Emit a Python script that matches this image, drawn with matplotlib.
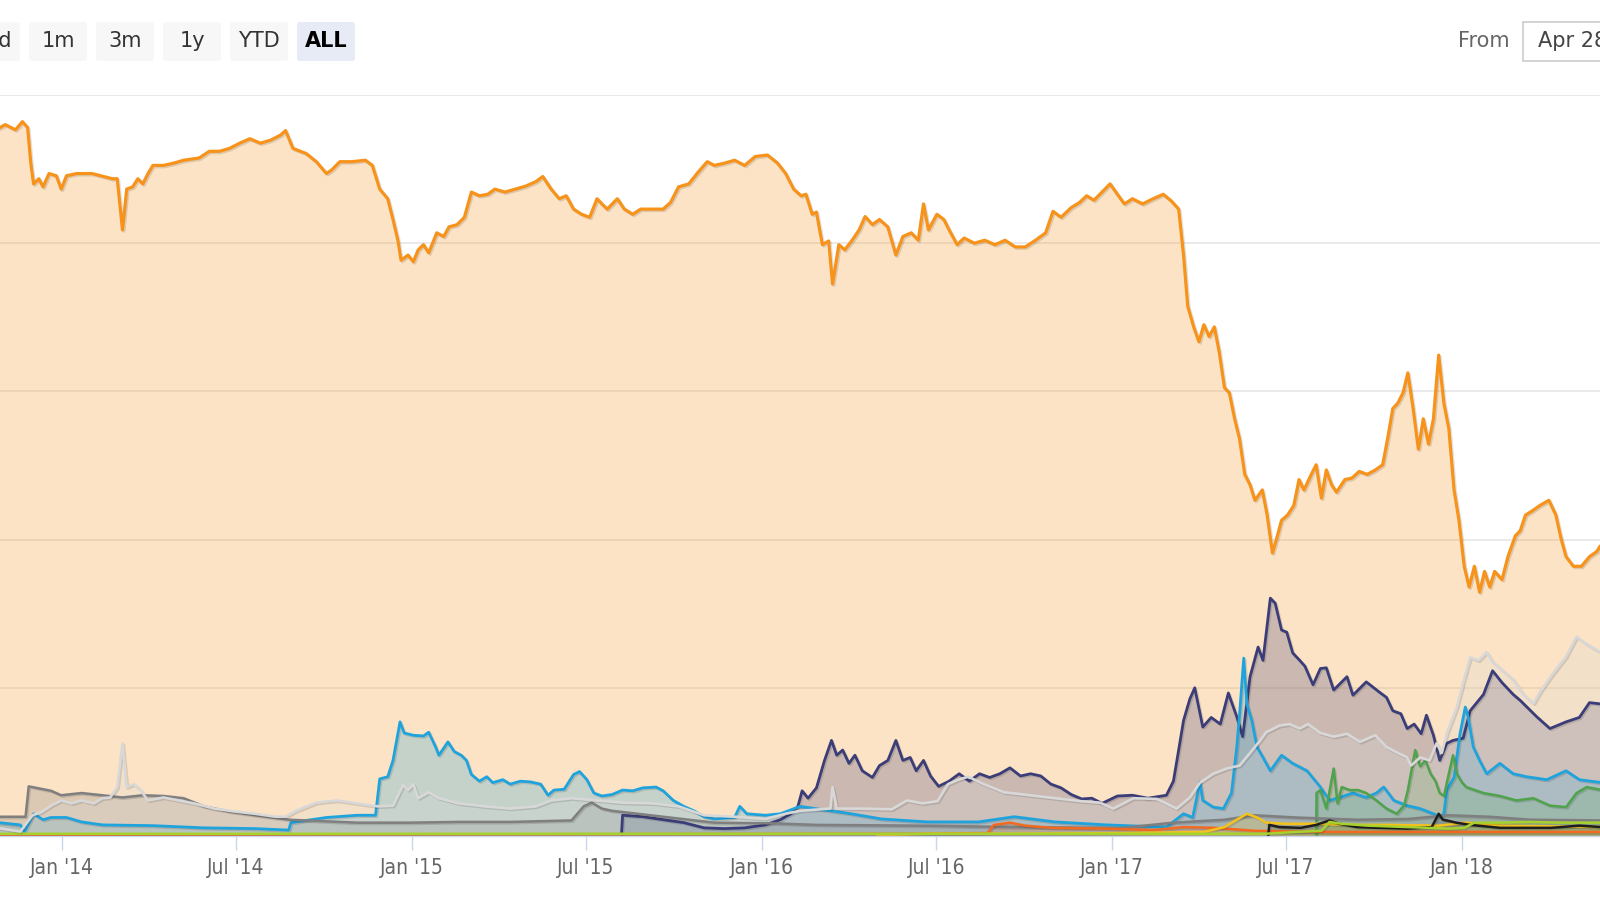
import numpy as np
import matplotlib.pyplot as plt
from matplotlib.patches import FancyBboxPatch, Rectangle
from matplotlib import patheffects as pe
from datetime import date

# market cap dominance in %, x given as decimal year
btc_t = [2013.80, 2013.822, 2013.837, 2013.866, 2013.886, 2013.901, 2013.910, 2013.918, 2013.933, 2013.945,
         2013.962, 2013.983, 2013.997, 2014.012, 2014.041, 2014.085, 2014.143, 2014.157, 2014.172, 2014.184,
         2014.201, 2014.216, 2014.230, 2014.245, 2014.259, 2014.289, 2014.318, 2014.347, 2014.391, 2014.420,
         2014.449, 2014.478, 2014.507, 2014.536, 2014.566, 2014.595, 2014.624, 2014.638, 2014.659, 2014.697,
         2014.726, 2014.755, 2014.770, 2014.793, 2014.828, 2014.866, 2014.886, 2014.907, 2014.930, 2014.945,
         2014.959, 2014.968, 2014.988, 2015.003, 2015.017, 2015.032, 2015.047, 2015.070, 2015.090, 2015.105,
         2015.128, 2015.149, 2015.169, 2015.192, 2015.216, 2015.236, 2015.265, 2015.294, 2015.324, 2015.353,
         2015.373, 2015.397, 2015.420, 2015.440, 2015.461, 2015.484, 2015.507, 2015.528, 2015.542, 2015.557,
         2015.586, 2015.606, 2015.630, 2015.653, 2015.688, 2015.717, 2015.738, 2015.761, 2015.790, 2015.819,
         2015.843, 2015.863, 2015.892, 2015.921, 2015.950, 2015.980, 2016.015, 2016.044, 2016.067, 2016.090,
         2016.111, 2016.125, 2016.143, 2016.155, 2016.172, 2016.190, 2016.201, 2016.219, 2016.236, 2016.257,
         2016.277, 2016.294, 2016.315, 2016.335, 2016.359, 2016.382, 2016.402, 2016.426, 2016.446, 2016.461,
         2016.475, 2016.499, 2016.519, 2016.534, 2016.557, 2016.577, 2016.606, 2016.636, 2016.665, 2016.694,
         2016.723, 2016.752, 2016.781, 2016.810, 2016.831, 2016.854, 2016.883, 2016.907, 2016.927, 2016.948,
         2016.971, 2016.994, 2017.015, 2017.035, 2017.058, 2017.087, 2017.117, 2017.146, 2017.169, 2017.190,
         2017.204, 2017.216, 2017.233, 2017.248, 2017.262, 2017.277, 2017.292, 2017.306, 2017.321, 2017.335,
         2017.350, 2017.364, 2017.379, 2017.394, 2017.408, 2017.429, 2017.443, 2017.458, 2017.472, 2017.484,
         2017.501, 2017.519, 2017.534, 2017.548, 2017.569, 2017.583, 2017.598, 2017.612, 2017.627, 2017.641,
         2017.665, 2017.685, 2017.706, 2017.729, 2017.752, 2017.773, 2017.787, 2017.802, 2017.816, 2017.831,
         2017.845, 2017.860, 2017.875, 2017.889, 2017.904, 2017.918, 2017.933, 2017.948, 2017.962, 2017.977,
         2017.991, 2018.006, 2018.020, 2018.035, 2018.050, 2018.064, 2018.079, 2018.093, 2018.114, 2018.131,
         2018.152, 2018.166, 2018.181, 2018.201, 2018.222, 2018.248, 2018.268, 2018.283, 2018.297, 2018.318,
         2018.341, 2018.364, 2018.385, 2018.394, 2018.40]
btc_p = [95.2, 95.6, 96.0, 95.3, 96.4, 95.6, 90.8, 88.0, 88.7, 87.6,
         89.4, 89.1, 87.3, 89.1, 89.4, 89.4, 88.7, 88.7, 81.8, 87.3,
         87.6, 88.7, 88.0, 89.4, 90.5, 90.5, 90.8, 91.2, 91.5, 92.4,
         92.4, 92.8, 93.5, 94.1, 93.5, 93.9, 94.6, 95.2, 92.8, 92.1,
         91.0, 89.4, 89.9, 91.0, 91.0, 91.2, 90.5, 87.3, 86.0, 83.2,
         80.4, 77.7, 78.4, 77.5, 79.1, 79.8, 78.7, 81.4, 80.9, 82.2,
         82.5, 83.5, 86.9, 86.4, 86.6, 87.3, 86.9, 87.3, 87.7, 88.3,
         89.0, 87.3, 86.0, 86.4, 84.6, 83.9, 83.5, 86.0, 85.3, 84.6,
         86.0, 84.6, 83.9, 84.6, 84.6, 84.6, 85.5, 87.6, 88.0, 89.7,
         91.0, 90.5, 90.8, 91.2, 90.5, 91.7, 91.9, 90.8, 89.4, 87.3,
         86.4, 86.6, 83.9, 84.2, 79.8, 80.3, 74.5, 79.8, 79.1, 80.4,
         81.8, 83.6, 82.5, 83.2, 82.2, 78.4, 80.9, 81.4, 80.4, 85.3,
         81.8, 83.9, 83.2, 81.8, 79.8, 80.7, 80.0, 80.4, 79.8, 80.4,
         79.5, 79.5, 80.4, 81.4, 84.3, 83.5, 84.8, 85.5, 86.4, 85.8,
         86.9, 88.0, 86.6, 85.3, 86.0, 85.3, 86.0, 86.6, 85.7, 84.6,
         78.4, 71.5, 68.7, 66.7, 69.0, 67.4, 68.7, 65.3, 60.5, 59.8,
         56.3, 53.6, 48.8, 47.4, 45.3, 46.7, 43.3, 38.2, 40.5, 42.6,
         43.3, 44.6, 48.1, 46.7, 48.8, 50.1, 45.6, 49.4, 47.4, 46.4,
         48.1, 48.3, 49.2, 48.8, 49.4, 50.1, 53.6, 57.7, 58.4, 59.8,
         62.5, 57.7, 52.2, 56.3, 52.9, 56.3, 64.9, 58.4, 55.0, 46.7,
         42.6, 36.4, 33.6, 36.4, 32.9, 35.7, 33.6, 35.7, 34.6, 37.7,
         40.5, 41.2, 43.3, 43.9, 44.6, 45.3, 43.3, 40.1, 37.7, 36.4,
         36.4, 37.7, 38.4, 39.1, 39.3]

eth_t = [2015.598, 2015.601, 2015.659, 2015.717, 2015.776, 2015.834, 2015.892, 2015.950, 2016.009, 2016.052,
         2016.082, 2016.102, 2016.114, 2016.131, 2016.155, 2016.178, 2016.198, 2016.213, 2016.230, 2016.248,
         2016.265, 2016.286, 2016.315, 2016.335, 2016.359, 2016.382, 2016.402, 2016.423, 2016.440, 2016.461,
         2016.481, 2016.504, 2016.534, 2016.563, 2016.592, 2016.621, 2016.650, 2016.679, 2016.708, 2016.738,
         2016.767, 2016.796, 2016.825, 2016.854, 2016.883, 2016.913, 2016.942, 2016.971, 2017.015, 2017.058,
         2017.102, 2017.155, 2017.175, 2017.190, 2017.204, 2017.222, 2017.236, 2017.259, 2017.283, 2017.309,
         2017.332, 2017.356, 2017.373, 2017.394, 2017.417, 2017.431, 2017.452, 2017.466, 2017.484, 2017.499,
         2017.516, 2017.536, 2017.551, 2017.574, 2017.595, 2017.612, 2017.633, 2017.671, 2017.688, 2017.726,
         2017.764, 2017.784, 2017.802, 2017.825, 2017.843, 2017.863, 2017.883, 2017.898, 2017.918, 2017.936,
         2017.956, 2017.974, 2018.003, 2018.023, 2018.061, 2018.087, 2018.114, 2018.146, 2018.166, 2018.213,
         2018.251, 2018.297, 2018.335, 2018.364, 2018.40]
eth_p = [0.3, 2.8, 2.6, 2.2, 1.8, 1.1, 1.0, 1.1, 1.5, 2.2,
         3.0, 4.0, 6.1, 5.1, 6.5, 10.2, 12.9, 10.9, 11.6, 9.8,
         10.9, 8.8, 7.9, 9.5, 10.2, 12.9, 10.2, 10.6, 8.8, 10.2,
         8.1, 6.7, 7.4, 8.4, 7.4, 8.4, 7.9, 8.4, 9.2, 8.1,
         8.4, 8.1, 7.0, 6.5, 5.6, 5.0, 5.1, 4.4, 5.4, 5.5,
         5.1, 5.5, 7.4, 11.6, 15.6, 18.5, 20.0, 14.7, 16.0, 15.1,
         19.3, 16.1, 13.4, 21.5, 25.5, 23.7, 32.1, 31.4, 27.8, 27.5,
         24.7, 23.7, 22.9, 20.4, 22.6, 22.7, 19.7, 21.5, 19.0, 20.8,
         19.4, 18.7, 16.9, 16.5, 14.5, 15.1, 13.8, 16.3, 13.6, 10.2,
         12.5, 12.9, 13.2, 16.9, 19.1, 22.3, 20.7, 19.1, 18.3, 16.1,
         14.5, 15.4, 16.0, 18.0, 17.8]

xrp_t = [2013.80, 2013.880, 2013.892, 2013.918, 2013.945, 2013.968, 2014.012, 2014.055, 2014.114, 2014.259,
         2014.405, 2014.551, 2014.647, 2014.653, 2014.755, 2014.843, 2014.895, 2014.907, 2014.930, 2014.945,
         2014.965, 2014.977, 2015.003, 2015.032, 2015.047, 2015.067, 2015.076, 2015.102, 2015.120, 2015.140,
         2015.155, 2015.169, 2015.192, 2015.213, 2015.230, 2015.259, 2015.280, 2015.309, 2015.338, 2015.367,
         2015.388, 2015.405, 2015.434, 2015.461, 2015.478, 2015.499, 2015.519, 2015.542, 2015.571, 2015.601,
         2015.630, 2015.659, 2015.697, 2015.717, 2015.746, 2015.776, 2015.805, 2015.834, 2015.863, 2015.921,
         2015.936, 2015.956, 2016.009, 2016.052, 2016.108, 2016.166, 2016.254, 2016.341, 2016.472, 2016.618,
         2016.720, 2016.837, 2016.983, 2017.155, 2017.204, 2017.230, 2017.251, 2017.259, 2017.289, 2017.318,
         2017.341, 2017.356, 2017.364, 2017.376, 2017.385, 2017.399, 2017.414, 2017.431, 2017.452, 2017.484,
         2017.516, 2017.557, 2017.595, 2017.621, 2017.650, 2017.688, 2017.726, 2017.755, 2017.776, 2017.805,
         2017.843, 2017.880, 2017.918, 2017.936, 2017.948, 2017.956, 2017.977, 2017.994, 2018.009, 2018.017,
         2018.032, 2018.050, 2018.070, 2018.108, 2018.146, 2018.184, 2018.242, 2018.297, 2018.335, 2018.40]
xrp_p = [1.9, 1.5, 0.6, 3.0, 2.2, 2.5, 2.5, 1.9, 1.5, 1.4,
         1.1, 1.0, 0.8, 1.8, 2.5, 2.8, 2.8, 7.7, 8.0, 10.2,
         15.4, 13.9, 13.6, 13.5, 14.0, 12.0, 10.9, 12.7, 11.4, 10.9,
         10.2, 8.3, 7.4, 8.0, 7.2, 7.6, 7.0, 7.4, 7.3, 7.0,
         5.5, 6.2, 6.3, 8.3, 8.7, 7.6, 5.8, 5.4, 5.6, 6.2,
         6.1, 6.5, 6.6, 6.1, 4.8, 4.0, 3.4, 2.6, 2.3, 2.5,
         4.0, 3.0, 2.8, 3.0, 4.0, 3.6, 3.0, 2.3, 1.9, 1.9,
         2.6, 1.9, 1.5, 1.2, 3.0, 2.5, 7.3, 4.8, 3.9, 3.7,
         5.8, 12.0, 16.4, 24.0, 17.8, 15.6, 12.0, 10.6, 8.8, 10.9,
         9.8, 8.8, 6.6, 4.8, 5.2, 5.8, 5.2, 5.8, 6.6, 4.8,
         4.1, 3.7, 3.0, 2.6, 3.0, 6.2, 7.9, 13.8, 17.4, 16.1,
         12.0, 10.2, 8.4, 9.8, 8.4, 8.0, 7.6, 8.8, 7.6, 7.2]

bch_t = [2017.583, 2017.584, 2017.595, 2017.612, 2017.633, 2017.644, 2017.656, 2017.679, 2017.703, 2017.726,
         2017.755, 2017.784, 2017.813, 2017.834, 2017.845, 2017.866, 2017.880, 2017.895, 2017.910, 2017.924,
         2017.936, 2017.948, 2017.962, 2017.974, 2017.985, 2018.000, 2018.012, 2018.061, 2018.108, 2018.155,
         2018.204, 2018.251, 2018.297, 2018.327, 2018.356, 2018.40]
bch_p = [0.0, 5.8, 6.2, 3.7, 9.1, 4.4, 6.6, 6.2, 6.2, 5.8,
         4.8, 3.7, 3.0, 4.1, 6.2, 11.6, 9.4, 10.2, 8.4, 7.4,
         5.8, 5.4, 8.4, 10.9, 8.4, 7.2, 6.6, 5.8, 5.4, 4.8,
         5.1, 4.1, 3.9, 5.8, 6.6, 6.2]

ltc_t = [2013.80, 2013.895, 2013.904, 2013.968, 2013.997, 2014.055, 2014.114, 2014.172, 2014.230, 2014.289,
         2014.347, 2014.405, 2014.478, 2014.551, 2014.647, 2014.843, 2014.988, 2015.134, 2015.280, 2015.455,
         2015.490, 2015.513, 2015.542, 2015.571, 2015.717, 2015.863, 2016.038, 2016.155, 2016.446, 2016.738,
         2017.029, 2017.175, 2017.321, 2017.408, 2017.525, 2017.700, 2017.845, 2017.962, 2018.079, 2018.195,
         2018.40]
ltc_p = [2.6, 2.6, 6.7, 6.1, 5.5, 5.8, 5.5, 5.2, 5.5, 5.4,
         5.1, 4.0, 3.3, 2.8, 2.2, 1.8, 1.8, 1.9, 1.9, 2.1,
         4.0, 4.5, 3.7, 3.4, 2.6, 1.8, 1.7, 1.5, 1.4, 1.2,
         1.1, 1.8, 2.2, 2.8, 2.5, 2.2, 2.3, 2.8, 2.6, 2.2,
         2.1]

xmr_t = [2013.80, 2016.446, 2016.644, 2016.662, 2016.708, 2016.752, 2016.825, 2016.971, 2017.117, 2017.204,
         2017.292, 2017.408, 2017.612, 2017.904, 2018.40]
xmr_p = [0.15, 0.3, 0.4, 1.5, 1.8, 1.4, 1.1, 1.0, 0.8, 1.2,
         1.1, 0.7, 0.55, 0.55, 0.55]

dash_t = [2016.329, 2016.475, 2016.738, 2017.029, 2017.262, 2017.321, 2017.356, 2017.385, 2017.414, 2017.440,
          2017.496, 2017.583, 2017.671, 2017.787, 2017.933, 2018.012, 2018.108, 2018.40]
dash_p = [0.1, 0.3, 0.3, 0.4, 0.55, 1.2, 2.2, 3.0, 2.5, 1.8,
          1.65, 1.65, 1.5, 1.5, 1.4, 1.8, 1.4, 1.2]

eos_t = [2017.446, 2017.449, 2017.478, 2017.539, 2017.583, 2017.621, 2017.650, 2017.700, 2017.758, 2017.845,
         2017.913, 2017.933, 2017.945, 2017.956, 2017.983, 2018.023, 2018.108, 2018.254, 2018.335, 2018.40]
eos_p = [0.1, 1.5, 1.2, 1.1, 1.5, 2.1, 1.65, 1.2, 1.1, 1.0,
         1.2, 3.0, 2.2, 2.1, 1.8, 1.5, 1.1, 1.1, 1.4, 1.2]

ada_t = [2013.80, 2017.437, 2017.525, 2017.598, 2017.621, 2017.656, 2017.729, 2017.845, 2017.962, 2018.006,
         2018.035, 2018.108, 2018.195, 2018.283, 2018.40]
ada_p = [0.3, 0.3, 0.55, 0.7, 1.9, 1.65, 1.4, 1.2, 1.0, 1.1,
         1.8, 1.8, 1.9, 1.8, 1.8]

oth_t = [2013.80, 2013.880, 2013.915, 2013.939, 2013.968, 2013.997, 2014.026, 2014.055, 2014.090, 2014.114,
         2014.137, 2014.157, 2014.172, 2014.184, 2014.204, 2014.222, 2014.245, 2014.289, 2014.332, 2014.376,
         2014.434, 2014.493, 2014.551, 2014.609, 2014.638, 2014.668, 2014.726, 2014.784, 2014.843, 2014.901,
         2014.945, 2014.974, 2014.988, 2015.003, 2015.017, 2015.047, 2015.076, 2015.134, 2015.207, 2015.280,
         2015.353, 2015.397, 2015.455, 2015.528, 2015.601, 2015.688, 2015.761, 2015.834, 2015.921, 2016.009,
         2016.067, 2016.108, 2016.195, 2016.201, 2016.213, 2016.283, 2016.370, 2016.414, 2016.458, 2016.501,
         2016.531, 2016.560, 2016.589, 2016.633, 2016.691, 2016.764, 2016.837, 2016.910, 2016.965, 2017.003,
         2017.061, 2017.128, 2017.184, 2017.222, 2017.251, 2017.289, 2017.327, 2017.364, 2017.394, 2017.423,
         2017.440, 2017.478, 2017.507, 2017.536, 2017.560, 2017.595, 2017.633, 2017.671, 2017.708, 2017.752,
         2017.784, 2017.813, 2017.843, 2017.854, 2017.880, 2017.907, 2017.927, 2017.942, 2017.956, 2017.985,
         2018.003, 2018.023, 2018.047, 2018.070, 2018.087, 2018.117, 2018.146, 2018.175, 2018.204, 2018.222,
         2018.259, 2018.297, 2018.327, 2018.356, 2018.40]
oth_p = [1.2, 0.6, 2.8, 3.2, 4.1, 4.8, 4.4, 4.8, 4.4, 5.1,
         5.2, 6.6, 12.5, 6.6, 7.0, 6.3, 4.8, 5.2, 4.8, 4.4,
         3.7, 3.3, 3.0, 2.6, 2.6, 3.4, 4.5, 4.8, 4.4, 4.0,
         4.1, 6.9, 6.2, 7.0, 5.1, 5.9, 5.1, 4.4, 4.0, 3.7,
         4.0, 4.8, 5.1, 4.8, 4.5, 4.4, 4.0, 2.8, 2.6, 2.3,
         3.0, 3.4, 3.7, 6.6, 3.7, 3.7, 3.6, 4.8, 4.4, 4.7,
         7.0, 7.6, 8.0, 7.0, 5.9, 5.5, 5.1, 4.7, 4.5, 3.7,
         5.1, 5.0, 3.7, 5.2, 7.2, 8.4, 9.1, 9.5, 11.2, 12.9,
         14.0, 14.9, 15.1, 14.5, 15.1, 13.9, 13.4, 13.8, 12.7, 13.6,
         12.0, 11.3, 10.6, 9.5, 10.6, 10.2, 12.5, 11.2, 13.8, 17.4,
         20.7, 24.1, 23.7, 24.8, 23.5, 22.3, 21.1, 19.1, 17.9, 19.4,
         21.9, 24.2, 26.9, 25.9, 24.7]

# drawing order follows the original series order
series = [
    (btc_t, btc_p, '#f7931a', 2.3),
    (eth_t, eth_p, '#3b3d78', 2.0),
    (xrp_t, xrp_p, '#1fa3dc', 2.0),
    (bch_t, bch_p, '#4fa34c', 1.8),
    (ltc_t, ltc_p, '#7f7f7f', 1.8),
    (xmr_t, xmr_p, '#f26a1f', 1.8),
    (dash_t, dash_p, '#f4c21b', 1.8),
    (eos_t, eos_p, '#1e1e1e', 1.8),
    (ada_t, ada_p, '#a7d12c', 1.8),
    (oth_t, oth_p, '#d8d8d8', 1.9),
]

tick_dates = ['2014-01-01', '2014-07-01', '2015-01-01', '2015-07-01', '2016-01-01',
              '2016-07-01', '2017-01-01', '2017-07-01', '2018-01-01']
tick_labels = ["Jan '14", "Jul '14", "Jan '15", "Jul '15", "Jan '16",
               "Jul '16", "Jan '17", "Jul '17", "Jan '18"]


def dec_year(s):
    d = date.fromisoformat(s)
    start = date(d.year, 1, 1)
    n = (date(d.year + 1, 1, 1) - start).days
    return d.year + (d - start).days / n


fig = plt.figure(figsize=(16, 9), dpi=100)
ax = fig.add_axes([0, 1 - 836 / 900, 1, (836 - 95) / 900])

for t, p, c, lw in series:
    ax.fill_between(t, p, 0, color=c, alpha=0.25, lw=0)
    ax.plot(t, p, color=c, lw=lw, solid_joinstyle='round',
            path_effects=[pe.SimpleLineShadow(offset=(1, -1), alpha=0.12), pe.Normal()])

ax.set_xlim(2013.822, 2018.394)
ax.set_ylim(0, 100)
ax.set_yticks([20, 40, 60, 80, 100])
ax.yaxis.grid(True, color='#e6e6e6', lw=1.2)
ax.set_axisbelow(True)
ax.tick_params(axis='y', left=False, labelleft=False)

ax.set_xticks([dec_year(s) for s in tick_dates])
ax.set_xticklabels(tick_labels)
ax.tick_params(axis='x', length=10, width=1, color='#ccd6eb', pad=6,
               labelsize=15, labelcolor='#666666')
for lab in ax.get_xticklabels():
    lab.set_fontstretch('condensed')
for s in ['left', 'right', 'top']:
    ax.spines[s].set_visible(False)
ax.spines['bottom'].set_color('#ccd6eb')
ax.spines['bottom'].set_linewidth(1)

# range selector buttons
W, H = 1600, 900
buttons = [(-40, 20, '7d'), (29, 87, '1m'), (96, 154, '3m'), (163, 221, '1y'),
           (230, 288, 'YTD'), (297, 355, 'ALL')]
for x0, x1, lab in buttons:
    sel = lab == 'ALL'
    fig.patches.append(FancyBboxPatch((x0 / W, 1 - 61 / H), (x1 - x0) / W, 39 / H,
                                      boxstyle='round,pad=0,rounding_size=0.002',
                                      mutation_aspect=W / H, transform=fig.transFigure,
                                      fc='#e6ebf5' if sel else '#f7f7f7', ec='none'))
    if lab == '7d':
        fig.text(12 / W, 1 - 41 / H, lab, ha='right', va='center', fontsize=15, color='#333333')
    else:
        fig.text((x0 + x1) / 2 / W, 1 - 41 / H, lab, ha='center', va='center', fontsize=15,
                 color='#000000' if sel else '#333333', fontweight='bold' if sel else 'normal')

fig.text(1484 / W, 1 - 41 / H, 'From', ha='center', va='center', fontsize=15, color='#666666')
fig.patches.append(Rectangle((1523 / W, 1 - 61 / H), 120 / W, 39 / H, transform=fig.transFigure,
                             fc='white', ec='#cccccc', lw=1.2))
fig.text(1538 / W, 1 - 41 / H, 'Apr 28, 2013', ha='left', va='center', fontsize=15, color='#444444')

fig.savefig('out.png', dpi=100, facecolor='white')
